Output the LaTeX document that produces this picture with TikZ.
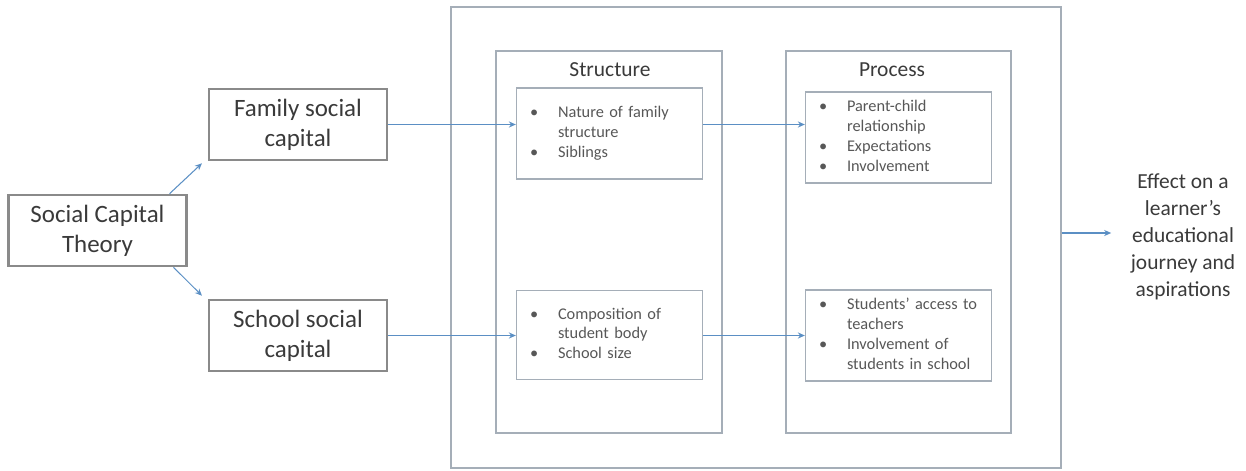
\documentclass[tikz,border=0pt]{standalone}
\usepackage{fontspec}
\setmainfont{Carlito}
\usetikzlibrary{arrows.meta,positioning}
\definecolor{boxgray}{HTML}{8A8A8A}
\definecolor{framegray}{HTML}{A5AEB8}
\definecolor{arrowblue}{HTML}{5B8FC4}
\definecolor{textgray}{HTML}{3A3A3A}
\newcommand{\blist}[1]{\begin{tabular}{@{}p{0.56cm}@{}l@{}}#1\end{tabular}}
\tikzset{
  mainbox/.style={draw=boxgray,line width=1.2pt,minimum width=3.56cm,minimum height=1.43cm,
    align=center,font=\fontsize{14.2}{17}\selectfont,text=textgray},
  frame/.style={draw=framegray,line width=0.8pt},
  listbox/.style={draw=framegray,line width=0.8pt,minimum width=3.72cm,minimum height=1.78cm,
    inner xsep=0.27cm,text width=3.18cm,align=left,font=\fontsize{9.3}{11.3}\selectfont,text=textgray!85},
  headtext/.style={font=\fontsize{12.2}{14}\selectfont,text=textgray},
  arr/.style={draw=arrowblue,line width=0.6pt,-{Stealth[length=4pt,width=3.5pt]}},
}
\begin{document}
\begin{tikzpicture}[x=0.02cm,y=-0.02cm]
\useasboundingbox (0,0) rectangle (1246,470);
% left side
\node[mainbox] (sct) at (97.5,230.5) {Social Capital\\Theory};
\node[mainbox] (fam) at (298,124.5) {Family social\\capital};
\node[mainbox] (sch) at (298,335.5) {School social\\capital};
% frames
\node[frame,minimum width=12.2cm,minimum height=9.22cm] (outer) at (756,237.5) {};
\node[frame,minimum width=4.52cm,minimum height=7.64cm] (struct) at (609,242) {};
\node[frame,minimum width=4.5cm,minimum height=7.64cm] (proc) at (898.5,242) {};
\node[headtext] (structhead) at (610,70) {Structure};
\node[headtext] (prochead) at (892,70) {Process};
% structure lists
\node[listbox,minimum height=1.82cm] (st1) at (609.5,133.5) {\blist{\textbullet & Nature of family\\ & structure\\ \textbullet & Siblings}};
\node[listbox] (st2) at (609.5,335) {\blist{\textbullet & Composition of\\ & student body\\ \textbullet & School size}};
% process lists
\node[listbox] (pr1) at (898.5,137.5) {\blist{\textbullet & Parent-child\\ & relationship\\ \textbullet & Expectations\\ \textbullet & Involvement}};
\node[listbox] (pr2) at (898.5,335.5) {\blist{\textbullet & Students’ access to\\ & teachers\\ \textbullet & Involvement of\\ & students in school}};
% outcome
\node[headtext,font=\fontsize{12.2}{15.3}\selectfont,align=center] (effect) at (1183,237) {Effect on a\\learner’s\\educational\\journey and\\aspirations};
% connectors
\draw[arr] ([xshift=-0.36cm]sct.north east) -- ([xshift=-0.12cm,yshift=-0.04cm]fam.south west);
\draw[arr] ([xshift=-0.28cm]sct.south east) -- ([xshift=-0.12cm,yshift=0.06cm]sch.north west);
\draw[arr] (fam.east) -- (fam.east -| st1.west);
\draw[arr] (sch.east) -- (sch.east -| st2.west);
\draw[arr] (st1.east |- fam.east) -- (pr1.west |- fam.east);
\draw[arr] (st2.east |- sch.east) -- (pr2.west |- sch.east);
\draw[arr,shorten >=0.27cm] ([yshift=0.09cm]outer.east) -- ([yshift=0.09cm]outer.east -| effect.west);
\end{tikzpicture}
\end{document}
